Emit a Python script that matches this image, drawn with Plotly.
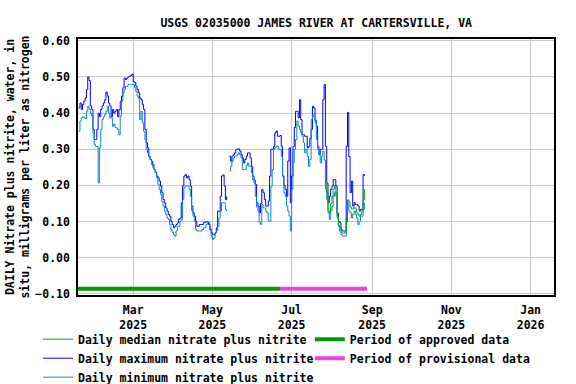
import pandas as pd
import plotly.graph_objects as go

# daily values, starting 2025-01-18 (None = missing day)
start_date = "2025-01-18"

max_vals = [
    0.414, 0.428, 0.41, 0.424, 0.433, 0.442, 0.465, 0.50, 0.49, 0.42,
    0.41, 0.355, 0.327, 0.327, 0.355, 0.40, 0.39, 0.41, 0.42, 0.428,
    0.437, 0.458, 0.447, 0.428, 0.42, 0.39, 0.41, 0.40, 0.405, 0.41,
    0.39, 0.41, 0.433, 0.447, 0.47, 0.497, 0.493, 0.497, 0.50, 0.502,
    0.504, 0.508, 0.488, 0.485, 0.474, 0.465, 0.456, 0.442, 0.437, 0.424,
    0.41, 0.355, 0.318, 0.304, 0.281, 0.272, 0.267, 0.258, 0.244, 0.237,
    0.226, 0.221, 0.212, 0.198, 0.18, 0.161, 0.152, 0.138, 0.129, 0.12,
    0.115, 0.101, 0.092, 0.083, 0.087, 0.092, 0.097, 0.106, 0.11, 0.152,
    0.198, 0.226, 0.23, 0.221, 0.226, 0.216, 0.198, 0.143, 0.124, 0.115,
    0.101, 0.087, 0.087, 0.092, 0.092, 0.092, 0.097, 0.099, 0.099, 0.099,
    0.092, 0.078, 0.069, 0.064, 0.064, 0.069, 0.083, 0.129, 0.129, 0.17,
    0.226, 0.229, 0.198, 0.161, 0.17, None, 0.281, 0.267, 0.281, 0.285,
    0.29, 0.30, 0.30, 0.301, 0.295, 0.285, 0.276, 0.262, 0.272, 0.281,
    0.29, 0.29, 0.276, 0.253, 0.226, 0.215, 0.203, 0.152, 0.143, 0.124,
    0.15, 0.189, 0.18, 0.161, 0.143, 0.143, 0.157, 0.226, 0.30, 0.30,
    0.308, 0.345, 0.35, 0.336, 0.336, 0.338, 0.308, 0.226, 0.20, 0.189,
    0.17, 0.267, 0.304, 0.152, 0.226, 0.308, 0.36, 0.405, 0.405, 0.387,
    0.437, 0.382, 0.34, 0.34, 0.336, 0.336, 0.304, 0.308, 0.33, 0.355,
    0.419, 0.414, 0.38, 0.364, 0.308, 0.285, 0.30, 0.30, 0.437, 0.479,
    0.308, 0.207, 0.152, 0.17, 0.189, 0.198, 0.216, 0.216, 0.198, 0.124,
    0.10, 0.097, 0.078, 0.074, 0.074, 0.074, 0.308, 0.402, 0.28, 0.18,
    0.212, 0.143, 0.152, 0.147, 0.147, 0.143, 0.129, 0.134, 0.134, 0.23,
    0.226,
]

min_vals = [
    0.35, 0.378, 0.387, 0.39, 0.387, 0.385, 0.405, 0.419, 0.41, 0.40,
    0.392, 0.345, 0.313, 0.308, 0.308, 0.207, 0.304, 0.355, 0.382, 0.39,
    0.396, 0.405, 0.419, 0.40, 0.387, 0.387, 0.364, 0.37, 0.36, 0.359,
    0.355, 0.34, 0.392, 0.433, 0.456, 0.465, 0.474, 0.474, 0.479, 0.479,
    0.479, 0.479, 0.479, 0.47, 0.46, 0.447, 0.44, 0.382, 0.405, 0.373,
    0.35, 0.327, 0.30, 0.29, 0.28, 0.272, 0.258, 0.25, 0.244, 0.235,
    0.221, 0.203, 0.189, 0.175, 0.155, 0.143, 0.129, 0.12, 0.11, 0.106,
    0.092, 0.078, 0.07, 0.064, 0.06, 0.074, 0.087, 0.087, 0.10, 0.106,
    0.161, 0.193, 0.198, 0.198, 0.198, 0.189, 0.17, 0.13, 0.115, 0.101,
    0.078, 0.074, 0.074, 0.074, 0.074, 0.078, 0.083, 0.083, 0.092, 0.097,
    0.097, 0.083, 0.06, 0.051, 0.055, 0.069, 0.075, 0.087, 0.11, 0.129,
    0.152, 0.152, 0.152, 0.134, 0.129, None, 0.24, 0.253, 0.267, 0.276,
    0.281, 0.281, 0.285, 0.29, 0.285, 0.276, 0.244, 0.244, 0.244, 0.255,
    0.262, 0.253, 0.253, 0.235, 0.215, 0.207, 0.17, 0.14, 0.129, 0.097,
    0.092, 0.147, 0.138, 0.138, 0.129, 0.124, 0.101, 0.101, 0.198, 0.244,
    0.30, 0.304, 0.308, 0.308, 0.30, 0.30, 0.28, 0.226, 0.18, 0.17,
    0.143, 0.129, 0.115, 0.074, 0.189, 0.262, 0.30, 0.327, 0.378, 0.364,
    0.355, 0.345, 0.336, 0.318, 0.29, 0.30, 0.28, 0.253, 0.272, 0.382,
    0.396, 0.39, 0.373, 0.327, 0.30, 0.29, 0.262, 0.281, 0.295, 0.27,
    0.19, 0.161, 0.124, 0.106, 0.13, 0.143, 0.17, 0.18, 0.17, 0.11,
    0.087, 0.074, 0.064, 0.06, 0.06, 0.06, 0.097, 0.152, 0.13, 0.124,
    0.11, 0.12, 0.129, 0.12, 0.11, 0.092, 0.101, 0.115, 0.115, 0.134,
    0.152,
]

# median only reported from 2025-07-27 onward
median_start = "2025-07-27"
median_vals = [
    0.21, 0.18, 0.13, 0.125, 0.15, 0.17, 0.19, 0.20, 0.18, 0.115,
    0.09, 0.085, 0.07, 0.068, 0.068, 0.07, 0.11, 0.16, 0.155, 0.14,
    0.135, 0.135, 0.14, 0.135, 0.125, 0.12, 0.115, 0.12, 0.13, 0.16,
    0.19,
]

approved_period = ["2025-01-17", "2025-06-22"]
provisional_period = ["2025-06-22", "2025-08-28"]
period_level = -0.086

tick_dates = ["2025-03-01", "2025-05-01", "2025-07-01", "2025-09-01", "2025-11-01", "2026-01-01"]
tick_labels = ["Mar<br>2025", "May<br>2025", "Jul<br>2025", "Sep<br>2025", "Nov<br>2025", "Jan<br>2026"]
y_ticks = [0.6, 0.5, 0.4, 0.3, 0.2, 0.1, 0.0, -0.1]

FONT = dict(family="DejaVu Sans Mono", size=11.5, color="black", weight="bold")

dates = pd.date_range(start_date, periods=len(max_vals), freq="D")
median_dates = pd.date_range(median_start, periods=len(median_vals), freq="D")

fig = go.Figure()

fig.add_trace(go.Scatter(x=approved_period, y=[period_level] * 2, mode="lines",
                         line=dict(color="#009900", width=4),
                         name="Period of approved data", legend="legend2", legendrank=1))
fig.add_trace(go.Scatter(x=provisional_period, y=[period_level] * 2, mode="lines",
                         line=dict(color="#EE44DD", width=4),
                         name="Period of provisional data", legend="legend2", legendrank=2))
fig.add_trace(go.Scatter(x=dates, y=max_vals, mode="lines", line_shape="hv",
                         line=dict(color="#0000FF", width=1),
                         name="Daily maximum nitrate plus nitrite", legendrank=2))
fig.add_trace(go.Scatter(x=dates, y=min_vals, mode="lines", line_shape="hv",
                         line=dict(color="#0A88D0", width=1),
                         name="Daily minimum nitrate plus nitrite", legendrank=3))
fig.add_trace(go.Scatter(x=median_dates, y=median_vals, mode="lines", line_shape="hv",
                         line=dict(color="#00AA00", width=1),
                         name="Daily median nitrate plus nitrite", legendrank=1))

fig.update_layout(
    width=576, height=384,
    margin=dict(l=78, r=22, t=39, b=89, autoexpand=False),
    paper_bgcolor="white", plot_bgcolor="white",
    font=FONT,
    title=dict(text="USGS 02035000 JAMES RIVER AT CARTERSVILLE, VA", x=0.549, xanchor="center",
               y=0.94, yanchor="middle", font=FONT),
    showlegend=True,
    legend=dict(x=-0.084, xanchor="left", y=-0.116, yanchor="top", orientation="v",
                font=FONT, bgcolor="rgba(0,0,0,0)", itemwidth=30),
    legend2=dict(x=0.487, xanchor="left", y=-0.116, yanchor="top", orientation="v",
                 font=FONT, bgcolor="rgba(0,0,0,0)", itemwidth=30),
)

fig.update_xaxes(
    type="date", range=["2025-01-17 12:00", "2026-01-19 00:00"],
    tickvals=tick_dates, ticktext=tick_labels, ticks="",
    showgrid=True, gridcolor="#C8C8C8", gridwidth=1,
    showline=True, linecolor="black", linewidth=1.5, mirror=True,
    zeroline=False, tickfont=FONT, ticklabelstandoff=3, automargin=False,
)
fig.update_yaxes(
    range=[-0.103, 0.605], tickvals=y_ticks, tickformat=".2f", ticks="",
    showgrid=True, gridcolor="#C8C8C8", gridwidth=1,
    showline=True, linecolor="black", linewidth=1.5, mirror=True,
    zeroline=False, tickfont=FONT, ticklabelstandoff=4,
    title=dict(text="DAILY Nitrate plus nitrite, water, in<br>situ, milligrams per liter as nitrogen",
               font=FONT, standoff=3),
    automargin=False,
)

# drop the browser's default 8px body margin so the figure sits at the window corner
fig.write_html("out.html", config={"displayModeBar": False},
               post_script="document.body.style.margin = '0';")
